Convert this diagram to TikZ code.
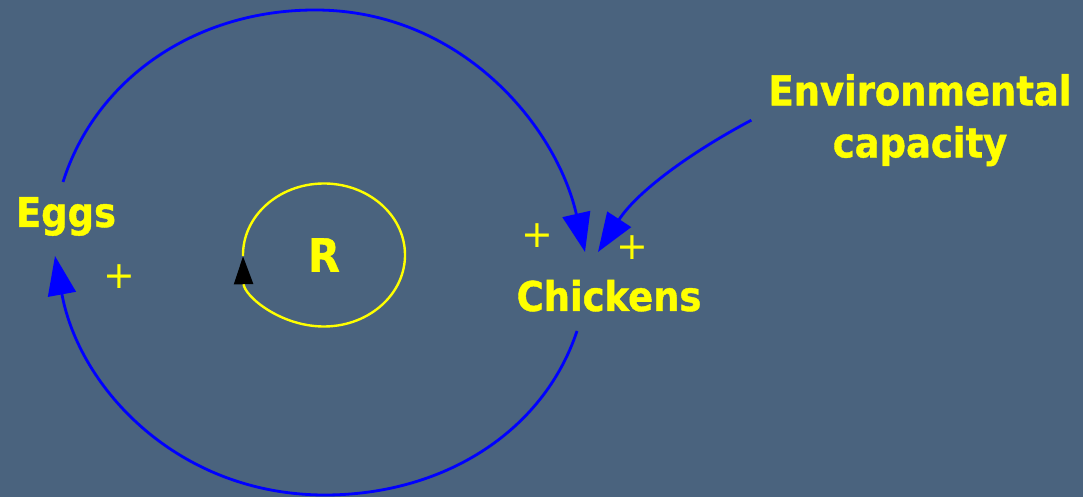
\documentclass[tikz,border=0pt]{standalone}
\usepackage{fontspec}
\setmainfont{DejaVu Sans}[FakeStretch=0.9, BoldFeatures={FakeBold=1}]
\newfontfamily\plusfont{DejaVu Sans}
\usepackage{tikz}
\usetikzlibrary{arrows.meta}
\definecolor{slidebg}{RGB}{74,99,126}
\definecolor{cldyellow}{RGB}{255,255,0}
\definecolor{cldblue}{RGB}{0,0,255}
\tikzset{
  varlabel/.style={text=cldyellow, inner sep=0pt, align=center,
    font=\bfseries\fontsize{41}{52}\selectfont},
  polarity/.style={text=cldyellow, inner sep=0pt,
    font=\plusfont\fontsize{38}{38}\selectfont},
  link/.style={draw=cldblue, line width=2.8pt,
    -{Triangle[length=39pt, width=28pt]}},
  looptag/.style={draw=cldyellow, line width=2.4pt,
    -{Triangle[length=28pt, width=19pt, color=black]}}
}

\begin{document}
\begin{tikzpicture}[x=1pt, y=1pt]
  \useasboundingbox (0,0) rectangle (1083,497);
  \fill[slidebg] (0,0) rectangle (1083,497);
  % variables
  \node[varlabel, anchor=base] (eggs) at (66,270) {Eggs};
  \node[varlabel, anchor=base] (chickens) at (609,186) {Chickens};
  \node[varlabel, anchor=north, inner xsep=17pt] (env) at (920,423) {Environmental\\capacity};
  \node[varlabel, font=\bfseries\fontsize{46}{46}\selectfont] (R) at (324,242) {R};
  % ends of the loop links
  \coordinate (eggsout) at (63,315);
  \coordinate (eggsin) at (55,241);
  \coordinate (chickin) at (585,245);
  \coordinate (chickout) at (577,166);
  \coordinate (envtip) at (598,245);
  % causal links
  \draw[link] (eggsout) .. controls (96,419) and (196,487) .. (315,487)
    .. controls (460,487) and (556,372) .. (chickin);
  \draw[link] (chickout) .. controls (543,64) and (442,2) .. (325,2)
    .. controls (178,2) and (79,109) .. (eggsin);
  \draw[link] (env.west) to[out=208, in=57, looseness=0.9] (envtip);
  % loop marker
  \draw[looptag] (R.center) ++(181:81 and 71.5) arc[start angle=541, end angle=181, x radius=81, y radius=71.5];
  % polarities
  \node[polarity] (p1) at (537,261) {+};
  \node[polarity] (p2) at (632,249) {+};
  \node[polarity] (p3) at (119,220) {+};
\end{tikzpicture}
\end{document}
